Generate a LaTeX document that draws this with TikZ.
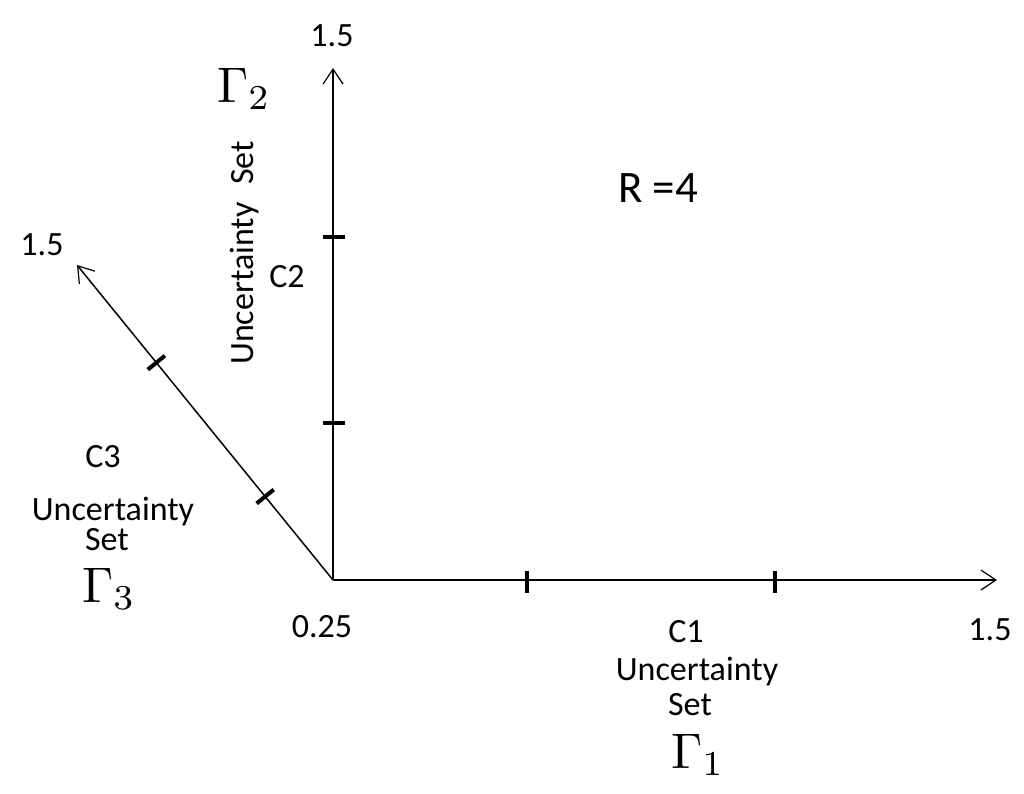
\documentclass[tikz,border=0pt]{standalone}
\usepackage{fontspec}
\setmainfont{Carlito}
\usetikzlibrary{arrows.meta,calc}
\newcommand{\bigGam}[1]{\scalebox{5}{$\Gamma_{#1}$}}
\begin{document}
\begin{tikzpicture}[x=1pt,y=-1pt,
  axis/.style={line width=1.5pt,-{Straight Barb[length=15pt,width=20pt,line width=1.2pt]}},
  tickmark/.style={line width=4pt},
  lbl/.style={font=\fontsize{34}{40}\selectfont, inner sep=0pt, anchor=base},
  bigl/.style={font=\fontsize{45}{54}\selectfont, inner sep=0pt, anchor=base},
  gam/.style={inner sep=0pt, anchor=base}]
\useasboundingbox (0,0) rectangle (1024,793);
% axes
\coordinate (O) at (333,580);
\coordinate (X) at (997,580);
\coordinate (Y) at (333,68);
\coordinate (Z) at (77,265);
\draw[axis] (O) -- (X);
\draw[axis] (O) -- (Y);
\draw[axis] (O) -- (Z);
% ticks
\coordinate (tx1) at (527,580);
\coordinate (tx2) at (775,580);
\coordinate (ty1) at (333,423);
\coordinate (ty2) at (333,237);
\coordinate (tz1) at ($(O)!0.265!(Z)$);
\coordinate (tz2) at ($(O)!0.69!(Z)$);
\foreach \t in {tx1,tx2}{\draw[tickmark] ($(\t)+(0,-9)$) -- ($(\t)+(0,13)$);}
\foreach \t in {ty1,ty2}{\draw[tickmark] ($(\t)+(-10,0)$) -- ($(\t)+(12,0)$);}
\foreach \t in {tz1,tz2}{\draw[tickmark] ($(\t)!11pt!90:(O)$) -- ($(\t)!11pt!-90:(O)$);}
% labels
\node[lbl] (top15) at (332,46) {1.5};
\node[gam] (g2) at (244,102) {\bigGam{2}};
\node[lbl, anchor=base west, rotate=90] (unc2) at (253,365) {Uncertainty\hspace{18pt}Set};
\node[lbl] (c2) at (287,287) {C2};
\node[bigl] (R) at (658,202) {R =4};
\node[lbl] (left15) at (42,255) {1.5};
\node[lbl] (c3) at (103,467) {C3};
\node[lbl] (unc3) at (113,520) {Uncertainty};
\node[lbl] (set3) at (107,550) {Set};
\node[gam] (g3) at (109,602) {\bigGam{3}};
\node[lbl] (o25) at (322,637) {0.25};
\node[lbl] (right15) at (990,640) {1.5};
\node[lbl] (c1) at (686,642) {C1};
\node[lbl] (unc1) at (697,680) {Uncertainty};
\node[lbl] (set1) at (690,715) {Set};
\node[gam] (g1) at (698,768) {\bigGam{1}};
\end{tikzpicture}
\end{document}
